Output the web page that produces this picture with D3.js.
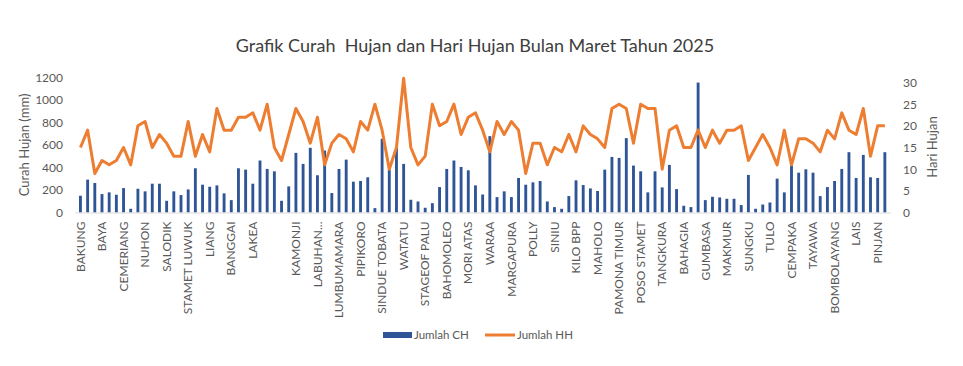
<!DOCTYPE html>
<html>
<head>
<meta charset="utf-8">
<script src="https://cdn.jsdelivr.net/npm/d3@7"></script>
<style>
  body { margin: 0; background: #fff; }
  text { font-family: Lato, 'Open Sans', sans-serif; fill: #595959; }
</style>
</head>
<body>
<div class="chart"></div>
<script>
// labels shown under every third station
const shownLabels = ['BAKUNG', 'BAYA', 'CEMERIANG', 'NUHON', 'SALODIK', 'STAMET LUWUK', 'LIANG',
  'BANGGAI', 'LAKEA', '', 'KAMONJI', 'LABUHAN...', 'LUMBUMAMARA', 'PIPIKORO', 'SINDUE TOBATA',
  'WATATU', 'STAGEOF PALU', 'BAHOMOLEO', 'MORI ATAS', 'WARAA', 'MARGAPURA', 'POLLY', 'SINIU',
  'KILO BPP', 'MAHOLO', 'PAMONA TIMUR', 'POSO STAMET', 'TANGKURA', 'BAHAGIA', 'GUMBASA', 'MAKMUR',
  'SUNGKU', 'TULO', 'CEMPAKA', 'TAYAWA', 'BOMBOLAYANG', 'LAIS', 'PINJAN'];

// Jumlah CH (mm)
const curahHujan = [149, 292, 262, 164, 179, 158, 217, 33, 211, 188,
  256, 256, 104, 188, 155, 205, 393, 247, 229, 241,
  170, 110, 393, 381, 256, 462, 387, 366, 104, 232,
  530, 432, 575, 331, 551, 173, 387, 470, 274, 280,
  313, 39, 655, 381, 581, 432, 113, 98, 42, 83,
  226, 387, 462, 405, 375, 241, 160, 679, 137, 188,
  137, 307, 247, 268, 280, 98, 48, 33, 146, 286,
  244, 214, 191, 381, 494, 485, 661, 417, 366, 179,
  366, 223, 423, 208, 60, 48, 1155, 110, 140, 134,
  122, 122, 66, 334, 33, 71, 89, 301, 179, 417,
  354, 384, 354, 146, 226, 280, 387, 536, 307, 512,
  313, 307, 536];

// Jumlah HH (hari)
const hariHujan = [15, 19, 9, 12, 11, 12, 15, 11, 20, 21,
  15, 18, 16, 13, 13, 21, 13, 18, 14, 24,
  19, 19, 22, 22, 23, 19, 25, 15, 12, 18,
  24, 21, 16, 22, 11, 16, 18, 17, 14, 21,
  19, 25, 19, 10, 15, 31, 15, 11, 13, 25,
  20, 21, 25, 18, 22, 23, 19, 14, 21, 18,
  21, 19, 9, 16, 16, 11, 15, 14, 18, 14,
  20, 18, 17, 15, 24, 25, 24, 16, 25, 24,
  24, 10, 19, 20, 15, 15, 19, 15, 19, 16,
  19, 19, 20, 12, 15, 18, 15, 11, 19, 11,
  17, 17, 16, 14, 19, 17, 23, 19, 18, 24,
  13, 20, 20];

const chTicks = [0, 200, 400, 600, 800, 1000, 1200];
const hhTicks = [0, 5, 10, 15, 20, 25, 30];

const width = 963;
const height = 366;

const idx = d3.range(curahHujan.length);
const x = d3.scaleBand().domain(idx).range([74.7, 890.6]).padding(0.6);
const yL = d3.scaleLinear().domain([0, 1200]).range([212.5, 77.5]);
const yR = d3.scaleLinear().domain([0, 30]).range([212.5, 82.5]);

const svg = d3.select('.chart').append('svg')
  .attr('width', width)
  .attr('height', height);

svg.append('text')
  .attr('x', 475).attr('y', 52)
  .attr('text-anchor', 'middle')
  .style('font-size', '18px')
  .style('white-space', 'pre')
  .style('fill', '#404040')
  .text('Grafik Curah  Hujan dan Hari Hujan Bulan Maret Tahun 2025');

// bars
svg.selectAll('.ch')
  .data(curahHujan)
  .enter().append('rect')
  .attr('class', 'ch')
  .attr('x', (d, i) => x(i))
  .attr('width', x.bandwidth())
  .attr('y', d => yL(d))
  .attr('height', d => yL(0) - yL(d))
  .attr('fill', '#2F5597');

// x axis
const xAxis = svg.append('g')
  .attr('transform', `translate(0, ${yL(0)})`)
  .call(d3.axisBottom(x)
    .tickValues(idx.filter(i => i % 3 === 0))
    .tickSize(0)
    .tickFormat(i => shownLabels[i / 3]));
xAxis.select('.domain').attr('stroke', '#d9d9d9');
xAxis.selectAll('text')
  .style('font-size', '12px')
  .attr('text-anchor', 'end')
  .attr('transform', 'rotate(-90)')
  .attr('x', -9)
  .attr('y', 0)
  .attr('dy', '0.35em');

// line
const line = d3.line()
  .x((d, i) => x(i) + x.bandwidth() / 2)
  .y(d => yR(d));

svg.append('path')
  .datum(hariHujan)
  .attr('fill', 'none')
  .attr('stroke', '#ED7D31')
  .attr('stroke-width', 3)
  .attr('stroke-linejoin', 'round')
  .attr('d', line);

// left axis
const left = svg.append('g')
  .attr('transform', 'translate(67, 0)')
  .call(d3.axisLeft(yL).tickValues(chTicks).tickFormat(d3.format('d')).tickSize(0).tickPadding(4));
left.select('.domain').remove();
left.selectAll('text').style('font-size', '12px');

// right axis
const right = svg.append('g')
  .attr('transform', 'translate(898, 0)')
  .call(d3.axisRight(yR).tickValues(hhTicks).tickSize(0).tickPadding(5));
right.select('.domain').remove();
right.selectAll('text').style('font-size', '12px');

svg.append('text')
  .attr('transform', 'translate(29, 145) rotate(-90)')
  .attr('text-anchor', 'middle')
  .style('font-size', '13px')
  .text('Curah Hujan (mm)');

svg.append('text')
  .attr('transform', 'translate(937, 147) rotate(-90)')
  .attr('text-anchor', 'middle')
  .style('font-size', '13px')
  .text('Hari Hujan');

// legend
const legend = svg.append('g').attr('transform', 'translate(383, 335)');
legend.append('rect')
  .attr('x', 0).attr('y', -3).attr('width', 29).attr('height', 6)
  .attr('fill', '#2F5597');
legend.append('text')
  .attr('x', 31).attr('y', 0).attr('dy', '0.35em')
  .style('font-size', '11.5px')
  .text('Jumlah CH');
legend.append('line')
  .attr('x1', 102).attr('x2', 132).attr('y1', 0).attr('y2', 0)
  .attr('stroke', '#ED7D31').attr('stroke-width', 3);
legend.append('text')
  .attr('x', 134).attr('y', 0).attr('dy', '0.35em')
  .style('font-size', '11.5px')
  .text('Jumlah HH');
</script>
</body>
</html>
